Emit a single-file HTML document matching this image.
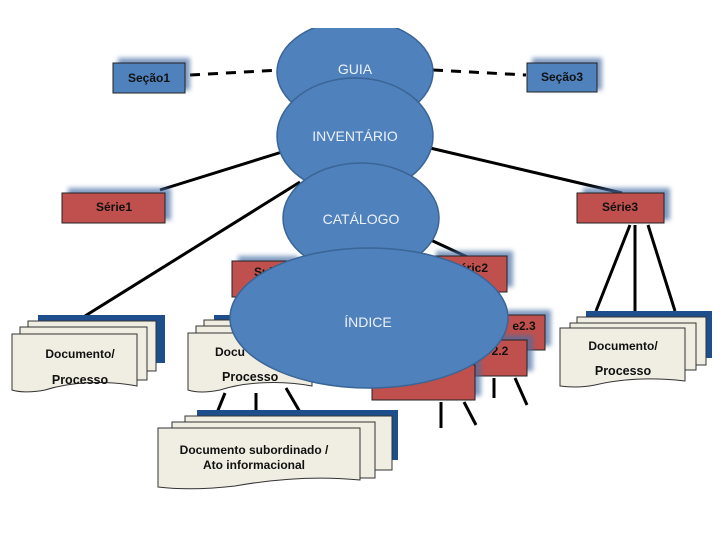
<!DOCTYPE html>
<html><head><meta charset="utf-8"><style>
html,body{margin:0;padding:0;background:#fff;}
svg{display:block}
.t{font-family:"Liberation Sans",sans-serif;font-weight:bold;font-size:12px;fill:#111;}
.e{font-family:"Liberation Sans",sans-serif;font-size:14px;fill:#eef2f8;}
.ln{stroke:#000;stroke-width:3;fill:none}
.sh{fill:#f0ede2;stroke:#333;stroke-width:1}
.bar{fill:#1f4e8c}
</style></head><body>
<svg width="720" height="540" viewBox="0 0 720 540" xmlns="http://www.w3.org/2000/svg">
<defs>
<clipPath id="top"><rect x="0" y="28" width="720" height="520"/></clipPath>
<filter id="bl" x="-20%" y="-20%" width="150%" height="150%"><feGaussianBlur stdDeviation="2.5"/></filter>
</defs>
<!-- dashed lines -->
<line x1="190" y1="75" x2="280" y2="70" stroke="#000" stroke-width="3" stroke-dasharray="10,8"/>
<line x1="433" y1="70" x2="526" y2="75" stroke="#000" stroke-width="3" stroke-dasharray="10,8"/>
<!-- sections -->
<rect x="118" y="58" width="72" height="32" fill="#4a6fa5" filter="url(#bl)" opacity="0.7"/>
<rect x="113" y="63" width="72" height="30" fill="#4f81bd" stroke="#222"/>
<text x="149" y="82" class="t" text-anchor="middle">Seção1</text>
<rect x="532" y="58" width="70" height="32" fill="#4a6fa5" filter="url(#bl)" opacity="0.7"/>
<rect x="527" y="63" width="70" height="29" fill="#4f81bd" stroke="#222"/>
<text x="562" y="81" class="t" text-anchor="middle" font-weight="normal">Seção3</text>
<!-- connector lines -->
<line class="ln" x1="282" y1="152" x2="160" y2="190"/>
<line class="ln" x1="430" y1="148" x2="622" y2="193"/>
<line class="ln" x1="300" y1="182" x2="85" y2="316"/>
<line class="ln" x1="630" y1="225" x2="596" y2="311"/>
<line class="ln" x1="635" y1="225" x2="635" y2="311"/>
<line class="ln" x1="648" y1="225" x2="675" y2="311"/>
<line class="ln" x1="420" y1="235" x2="478" y2="262"/>
<!-- series -->
<rect x="68" y="188" width="103" height="32" fill="#4a6fa5" filter="url(#bl)" opacity="0.7"/>
<rect x="62" y="193" width="103" height="30" fill="#c0504d" stroke="#222"/>
<text x="114" y="211" class="t" text-anchor="middle">Série1</text>
<rect x="583" y="188" width="87" height="32" fill="#4a6fa5" filter="url(#bl)" opacity="0.7"/>
<rect x="577" y="193" width="87" height="30" fill="#c0504d" stroke="#222"/>
<text x="620" y="211" class="t" text-anchor="middle" font-weight="normal">Série3</text>
<!-- red subseries -->
<rect x="436" y="251" width="77" height="36" fill="#4a6fa5" filter="url(#bl)" opacity="0.7"/>
<rect x="430" y="256" width="77" height="36" fill="#c0504d" stroke="#222"/>
<text x="470" y="272" class="t" text-anchor="middle">Séric2</text>
<rect x="238" y="256" width="60" height="36" fill="#4a6fa5" filter="url(#bl)" opacity="0.7"/>
<rect x="232" y="261" width="60" height="36" fill="#c0504d" stroke="#222"/>
<text x="254" y="276" class="t">Sub</text>
<rect x="506" y="310" width="45" height="36" fill="#4a6fa5" filter="url(#bl)" opacity="0.7"/>
<rect x="500" y="315" width="45" height="35" fill="#c0504d" stroke="#222"/>
<text x="524" y="330" class="t" text-anchor="middle">e2.3</text>
<rect x="476" y="335" width="57" height="36" fill="#4a6fa5" filter="url(#bl)" opacity="0.7"/>
<rect x="470" y="340" width="57" height="36" fill="#c0504d" stroke="#222"/>
<text x="500" y="355" class="t" text-anchor="middle">2.2</text>
<rect x="378" y="360" width="103" height="36" fill="#4a6fa5" filter="url(#bl)" opacity="0.7"/>
<rect x="372" y="365" width="103" height="35" fill="#c0504d" stroke="#222"/>
<line class="ln" x1="441" y1="402" x2="441" y2="428"/>
<line class="ln" x1="464" y1="402" x2="476" y2="425"/>
<line class="ln" x1="494" y1="378" x2="494" y2="398"/>
<line class="ln" x1="515" y1="378" x2="527" y2="405"/>
<!-- doc stacks -->
<!-- left -->
<rect class="bar" x="38" y="315" width="127" height="48"/>
<rect class="sh" x="28" y="321" width="128" height="50"/>
<rect class="sh" x="20" y="327" width="127" height="53"/>
<path class="sh" d="M12 334 H137 V386 C105 380 70 382 45 390 C30 393 18 392 12 390 Z"/>
<text x="80" y="358" class="t" text-anchor="middle">Documento/</text>
<text x="80" y="384" class="t" text-anchor="middle" font-weight="normal" style="font-size:12.5px">Processo</text>
<!-- middle -->
<rect class="bar" x="214" y="315" width="120" height="48"/>
<rect class="sh" x="204" y="320" width="120" height="50"/>
<rect class="sh" x="196" y="326" width="120" height="53"/>
<path class="sh" d="M188 333 H312 V386 C280 380 245 382 220 390 C205 393 194 392 188 390 Z"/>
<text x="215" y="356" class="t">Docu</text>
<text x="222" y="381" class="t" font-weight="normal" style="font-size:12.5px">Processo</text>
<line class="ln" x1="225" y1="393" x2="210" y2="430"/>
<line class="ln" x1="256" y1="393" x2="256" y2="414"/>
<line class="ln" x1="286" y1="388" x2="300" y2="412"/>
<!-- bottom -->
<rect class="bar" x="197" y="410" width="201" height="50"/>
<rect class="sh" x="185" y="416" width="207" height="54"/>
<rect class="sh" x="172" y="422" width="203" height="56"/>
<path class="sh" d="M158 428 H360 V480 C320 476 280 478 235 486 C200 490 175 489 158 487 Z"/>
<text x="254" y="454" class="t" text-anchor="middle" font-weight="normal" style="font-weight:bold">Documento subordinado /</text>
<text x="254" y="469" class="t" text-anchor="middle">Ato informacional</text>
<!-- right -->
<rect class="bar" x="586" y="311" width="126" height="47"/>
<rect class="sh" x="577" y="317" width="129" height="48"/>
<rect class="sh" x="570" y="323" width="126" height="47"/>
<path class="sh" d="M560 328 H685 V381 C650 377 620 379 595 385 C580 388 568 387 560 386 Z"/>
<text x="623" y="350" class="t" text-anchor="middle">Documento/</text>
<text x="623" y="375" class="t" text-anchor="middle" font-weight="normal" style="font-size:12.5px">Processo</text>
<!-- ellipses -->
<g clip-path="url(#top)">
<ellipse cx="355" cy="72" rx="78" ry="52" fill="#4f81bd" stroke="#3a6595" stroke-width="1.5"/>
</g>
<text x="355" y="74" class="e" text-anchor="middle">GUIA</text>
<ellipse cx="355" cy="136" rx="78" ry="58" fill="#4f81bd" stroke="#3a6595" stroke-width="1.5"/>
<text x="355" y="141" class="e" text-anchor="middle">INVENTÁRIO</text>
<ellipse cx="361" cy="218" rx="78" ry="55" fill="#4f81bd" stroke="#3a6595" stroke-width="1.5"/>
<text x="361" y="224" class="e" text-anchor="middle">CATÁLOGO</text>
<ellipse cx="369" cy="318" rx="139" ry="70" fill="#4f81bd" stroke="#3a6595" stroke-width="1.5"/>
<text x="368" y="327" class="e" text-anchor="middle">ÍNDICE</text>
</svg>
</body></html>
